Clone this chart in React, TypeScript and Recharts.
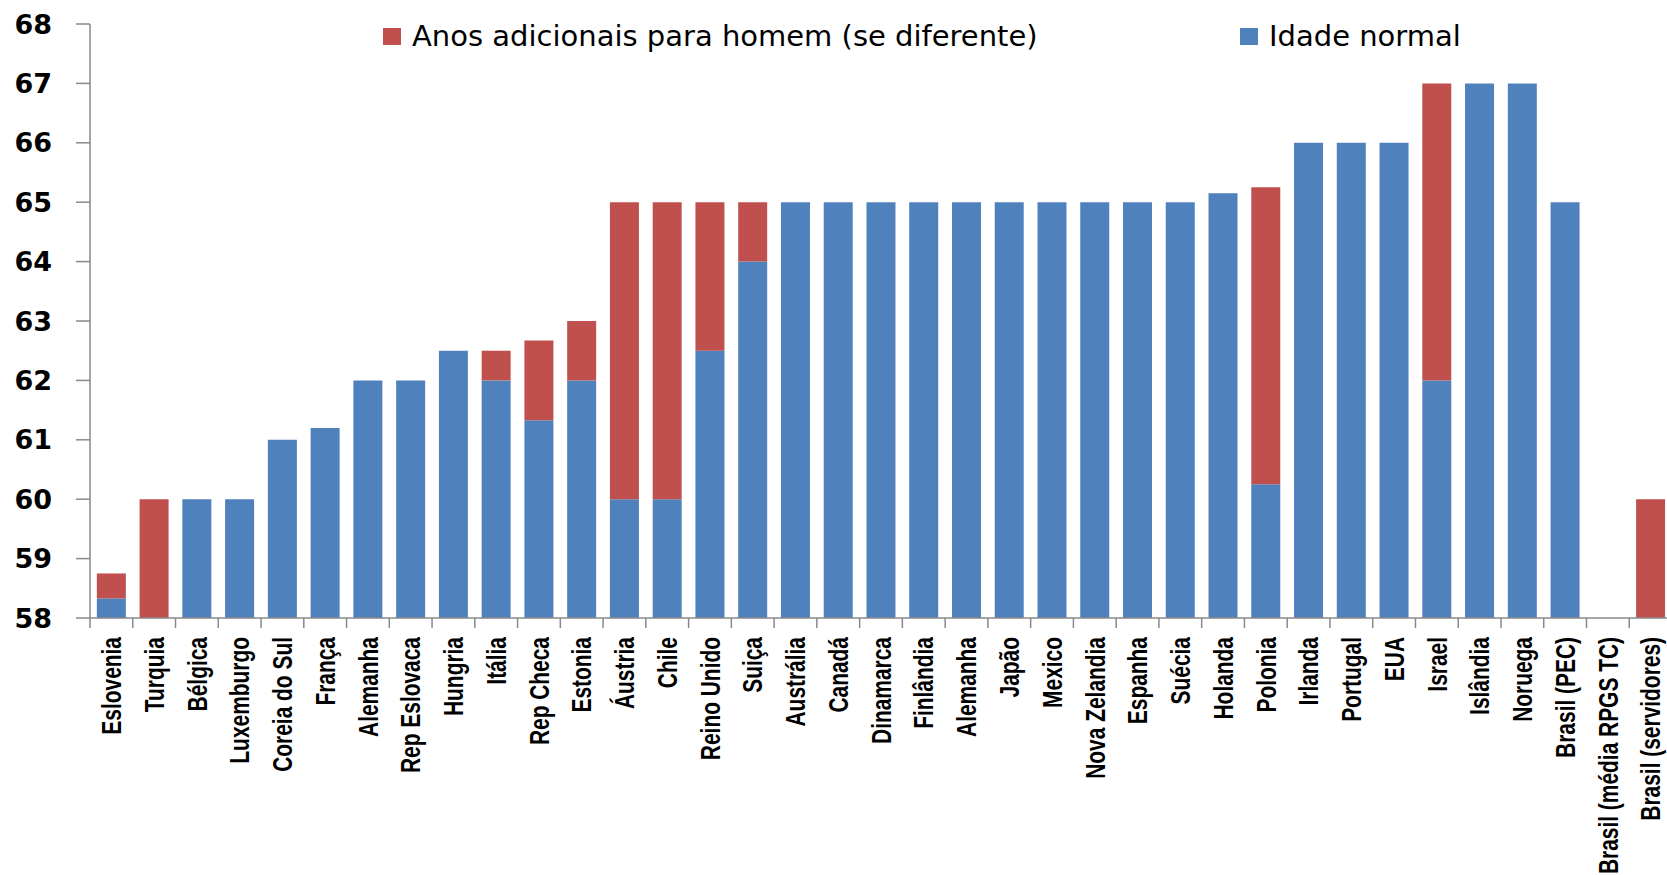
import React from 'react';
import { BarChart, Bar, XAxis, YAxis, Legend } from 'recharts';

// Idade de aposentadoria por país: idade normal + anos adicionais para homem
const paises = [
  'Eslovenia', 'Turquia', 'Bélgica', 'Luxemburgo', 'Coreia do Sul', 'França', 'Alemanha',
  'Rep Eslovaca', 'Hungria', 'Itália', 'Rep Checa', 'Estonia', 'Áustria', 'Chile',
  'Reino Unido', 'Suiça', 'Austrália', 'Canadá', 'Dinamarca', 'Finlândia', 'Alemanha',
  'Japão', 'Mexico', 'Nova Zelandia', 'Espanha', 'Suécia', 'Holanda', 'Polonia',
  'Irlanda', 'Portugal', 'EUA', 'Israel', 'Islândia', 'Noruega', 'Brasil (PEC)',
  'Brasil (média RPGS TC)', 'Brasil (servidores)',
];

const idadeNormal = [
  58.33, 58, 60, 60, 61, 61.2, 62,
  62, 62.5, 62, 61.33, 62, 60, 60,
  62.5, 64, 65, 65, 65, 65, 65,
  65, 65, 65, 65, 65, 65.15, 60.25,
  66, 66, 66, 62, 67, 67, 65,
  54, 55,
];

const anosAdicionais = [
  0.42, 2, 0, 0, 0, 0, 0,
  0, 0, 0.5, 1.34, 1, 5, 5,
  2.5, 1, 0, 0, 0, 0, 0,
  0, 0, 0, 0, 0, 0, 5,
  0, 0, 0, 5, 0, 0, 0,
  0, 5,
];

const yTicks = [58, 59, 60, 61, 62, 63, 64, 65, 66, 67, 68];

const data = paises.map((pais, i) => ({
  pais,
  normal: idadeNormal[i],
  adicional: anosAdicionais[i],
}));

const AZUL = '#4F81BD';
const VERMELHO = '#C0504D';
const EIXO = '#898989';

const W = 1675;
const H = 875;
const PLOT_LEFT = 90;
const PLOT_RIGHT = 1672;
const PLOT_TOP = 24;
const AXIS_Y = 618;
const BAND = (PLOT_RIGHT - PLOT_LEFT) / paises.length;

// rótulo rotacionado e estreitado + marcas de divisão entre categorias
function PaisTick(props: any) {
  const { x, payload, index } = props;
  const left = x - BAND / 2;
  const right = x + BAND / 2;
  return (
    <g>
      <line x1={left} x2={left} y1={AXIS_Y} y2={AXIS_Y + 10} stroke={EIXO} strokeWidth={1.5} />
      {index === paises.length - 1 && (
        <line x1={right} x2={right} y1={AXIS_Y} y2={AXIS_Y + 10} stroke={EIXO} strokeWidth={1.5} />
      )}
      <text
        transform={`translate(${x},${AXIS_Y + 19}) rotate(-90) scale(0.775, 1)`}
        textAnchor="end"
        dy="0.36em"
        fontFamily='"Liberation Sans", Arial, sans-serif'
        fontWeight="bold"
        fontSize={27}
        fill="#000"
      >
        {payload.value}
      </text>
    </g>
  );
}

function Legenda() {
  const item = (cor: string, texto: string, left: number) => (
    <div style={{ position: 'absolute', left, top: 0, display: 'flex', alignItems: 'center' }}>
      <span style={{ width: 18, height: 17, background: cor, display: 'inline-block', marginRight: 11 }} />
      <span style={{ fontFamily: '"DejaVu Sans", sans-serif', fontSize: 29, color: '#000', lineHeight: '34px', whiteSpace: 'pre' }}>
        {texto}
      </span>
    </div>
  );
  return (
    <div style={{ position: 'relative', width: W, height: 34 }}>
      {item(VERMELHO, 'Anos adicionais para homem (se diferente)', 383)}
      {item(AZUL, 'Idade normal', 1240)}
    </div>
  );
}

export default function App() {
  return (
    <div style={{ position: 'absolute', left: 0, top: 0, width: 1667, height: 875, overflow: 'hidden', background: '#fff' }}>
      <BarChart
        width={W}
        height={H}
        data={data}
        margin={{ top: PLOT_TOP, right: W - PLOT_RIGHT, left: 0, bottom: 0 }}
        barCategoryGap="16%"
      >
        <XAxis
          dataKey="pais"
          interval={0}
          height={H - AXIS_Y}
          tickLine={false}
          axisLine={{ stroke: EIXO, strokeWidth: 1.5 }}
          tick={<PaisTick />}
        />
        <YAxis
          width={PLOT_LEFT}
          domain={[58, 68]}
          ticks={yTicks}
          allowDataOverflow
          interval={0}
          tickSize={14}
          tickMargin={24}
          axisLine={{ stroke: EIXO, strokeWidth: 1.5 }}
          tickLine={{ stroke: EIXO, strokeWidth: 1.5 }}
          tick={{ fontFamily: '"DejaVu Sans", sans-serif', fontWeight: 'bold', fontSize: 27, fill: '#000' }}
        />
        <Legend
          layout="horizontal"
          verticalAlign="middle"
          align="center"
          wrapperStyle={{ top: 19, left: 0, width: W }}
          content={() => <Legenda />}
        />
        <Bar dataKey="normal" name="Idade normal" stackId="a" fill={AZUL} isAnimationActive={false} />
        <Bar dataKey="adicional" name="Anos adicionais para homem (se diferente)" stackId="a" fill={VERMELHO} isAnimationActive={false} />
      </BarChart>
    </div>
  );
}
